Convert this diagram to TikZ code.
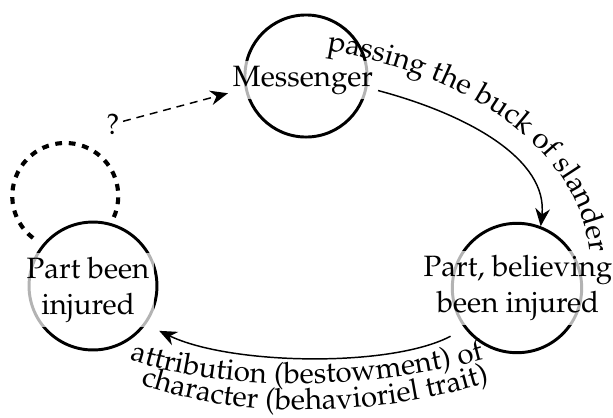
\documentclass[tikz,border=0pt]{standalone}
\usepackage[T1]{fontenc}
\usepackage{mathpazo}
\usetikzlibrary{arrows.meta,decorations.text}
\begin{document}
\begin{tikzpicture}[x=0.34pt,y=-0.34pt,
  state/.style={circle, draw, line width=1pt, inner sep=0pt},
  lbl/.style={fill=white, fill opacity=0.7, text opacity=1, align=center, inner sep=1.5pt},
  conn/.style={line width=0.5pt, -{Stealth[length=6pt,width=5pt]}},
  qconn/.style={line width=0.5pt, dash pattern=on 2.7pt off 2pt, -{Stealth[length=6pt,width=5pt]}},
  loopline/.style={line width=1.4pt, dash pattern=on 2.3pt off 2.3pt},
  curved/.style={decorate, decoration={text along path, text align=center, text={#1}}}
]
\useasboundingbox (0,0) rectangle (613,417);
% circles
\node[state, minimum size=41.5pt] (mess) at (306,76) {};
\node[state, minimum size=43.5pt] (left) at (93,286) {};
\node[state, minimum size=44pt] (right) at (517,288) {};
% labels
\node[lbl] (mtext) at (303,80) {Messenger};
\node[lbl] (ltext) at (88,290) {Part been\\injured};
\node[lbl] (rtext) at (518,288) {Part, believing\\been injured};
% self loop
\coordinate (la) at (33,238);
\draw[loopline] (la) arc[start angle=127.5, end angle=384, radius=53];
% question arrow
\node[inner sep=1pt] (q) at (113,124) {?};
\draw[qconn] (q) -- (mtext.190);
% passing the buck
\draw[conn] (mtext.-8) .. controls (470,115) and (548,160) .. (right.69);
\path[curved={passing the buck of slander}] (322,50) .. controls (470,73) and (582,150) .. (590,258);
% attribution
\draw[conn, shorten <=5.5pt, shorten >=5pt] (right.218) .. controls (390,368) and (230,365) .. (left.-36);
\path[curved={attribution (bestowment) of}] (116,355) .. controls (230,398) and (385,388) .. (498,355);
\path[curved={character (behavioriel trait)}] (128,380) .. controls (245,425) and (392,415) .. (502,378);
\end{tikzpicture}
\end{document}
